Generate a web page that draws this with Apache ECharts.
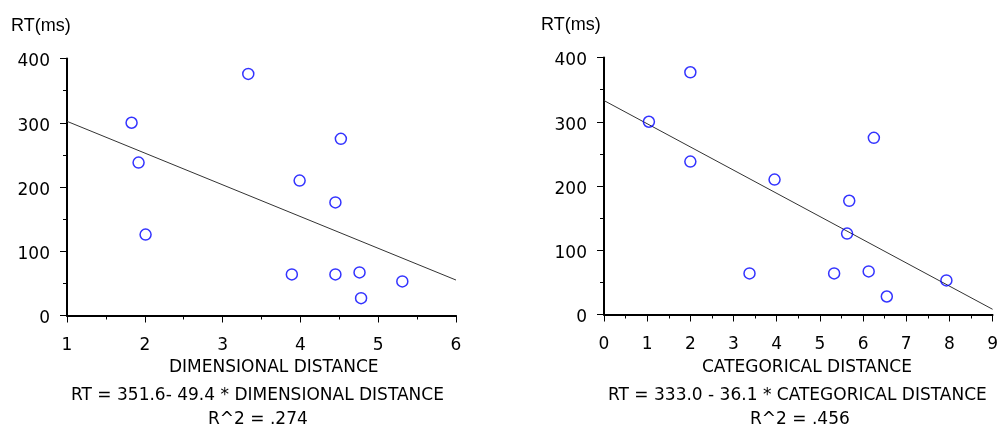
<!DOCTYPE html>
<html>
<head>
<meta charset="utf-8">
<script src="https://cdn.jsdelivr.net/npm/echarts@6/dist/echarts.min.js"></script>
<style>
html,body{margin:0;padding:0;background:#fff;}
#c{width:1001px;height:428px;}
</style>
</head>
<body>
<div id="c"></div>
<script>
// Left panel: dimensional distance vs RT
var dimDistance = [1.83, 1.92, 2.01, 3.33, 3.99, 4.52, 4.45, 3.89, 4.45, 4.76, 4.78, 5.31];
var dimRT       = [300, 238, 126, 376, 210, 275, 176, 64, 64, 67, 27, 53];
// Right panel: categorical distance vs RT
var catDistance = [1.04, 2.0, 2.0, 3.37, 3.95, 5.33, 5.68, 5.63, 6.13, 6.25, 6.55, 7.93];
var catRT       = [300, 377, 238, 64, 210, 64, 177, 126, 67, 275, 28, 53];
// Regression coefficients shown under each panel [intercept, slope]
var dimFit = [351.6, -49.4];
var catFit = [333.0, -36.1];
var dimRange = [1, 6];
var catRange = [0, 9];
var yTicks = [0, 100, 200, 300, 400];
var texts = {
  yName: 'RT(ms)',
  dimName: 'DIMENSIONAL DISTANCE',
  catName: 'CATEGORICAL DISTANCE',
  dimEq: 'RT = 351.6- 49.4 * DIMENSIONAL DISTANCE',
  catEq: 'RT = 333.0 - 36.1 * CATEGORICAL DISTANCE',
  dimR2: 'R^2 = .274',
  catR2: 'R^2 = .456'
};

function pts(xs, ys){ return xs.map(function(x,i){ return [x, ys[i]]; }); }
function fitLine(fit, range){ return range.map(function(x){ return [x, fit[0] + fit[1]*x]; }); }

var FONT = 'DejaVu Sans';
function xAxis(idx, range){
  return {
    type:'value', gridIndex: idx, min: range[0], max: range[1], interval: 1,
    axisLine:{show:true, onZero:false, lineStyle:{color:'#000', width:2}},
    axisTick:{show:true, length:7, lineStyle:{color:'#000', width:1}},
    minorTick:{show:true, splitNumber:2, length:4, lineStyle:{color:'#000', width:1}},
    axisLabel:{color:'#000', fontFamily:FONT, fontSize:17, margin:22},
    splitLine:{show:false}
  };
}
function yAxis(idx){
  return {
    type:'value', gridIndex: idx, min: yTicks[0], max: yTicks[yTicks.length-1], interval: 100,
    axisLine:{show:true, lineStyle:{color:'#000', width:2}},
    axisTick:{show:true, length:7, lineStyle:{color:'#000', width:1}},
    minorTick:{show:true, splitNumber:2, length:4, lineStyle:{color:'#000', width:1}},
    axisLabel:{color:'#000', fontFamily:FONT, fontSize:17, margin:17, verticalAlign:'top', lineHeight:7},
    splitLine:{show:false}
  };
}
function scatter(idx, data){
  return {
    type:'scatter', xAxisIndex: idx, yAxisIndex: idx, data: data,
    symbol:'circle', symbolSize: 11,
    itemStyle:{color:'rgba(0,0,0,0)', borderColor:'#0000ff', borderWidth:1.5},
    silent:true, z:3
  };
}
function line(idx, data){
  return {
    type:'line', xAxisIndex: idx, yAxisIndex: idx, data: data,
    symbol:'none', lineStyle:{color:'#333', width:1}, silent:true, z:2
  };
}

var chart = echarts.init(document.getElementById('c'));
chart.setOption({
  animation:false,
  backgroundColor:'#fff',
  grid:[
    {left:67, top:58.5, width:389, height:257},
    {left:604, top:57.5, width:391, height:257}
  ],
  xAxis:[xAxis(0, dimRange), xAxis(1, catRange)],
  yAxis:[yAxis(0), yAxis(1)],
  series:[
    line(0, fitLine(dimFit, dimRange)),
    scatter(0, pts(dimDistance, dimRT)),
    line(1, fitLine(catFit, catRange)),
    scatter(1, pts(catDistance, catRT))
  ],
  graphic:[
    {type:'text', left:11, top:17, style:{text:texts.yName, fill:'#000', font:'18px "Liberation Sans"'}},
    {type:'text', left:541, top:16, style:{text:texts.yName, fill:'#000', font:'18px "Liberation Sans"'}},
    {type:'text', left:169, top:359, style:{text:texts.dimName, fill:'#000', font:'17px "DejaVu Sans"'}},
    {type:'text', left:702, top:359, style:{text:texts.catName, fill:'#000', font:'17px "DejaVu Sans"'}},
    {type:'text', left:71, top:387, style:{text:texts.dimEq, fill:'#000', font:'17px "DejaVu Sans"'}},
    {type:'text', left:608, top:387, style:{text:texts.catEq, fill:'#000', font:'17px "DejaVu Sans"'}},
    {type:'text', left:208, top:411, style:{text:texts.dimR2, fill:'#000', font:'17px "DejaVu Sans"'}},
    {type:'text', left:750, top:411, style:{text:texts.catR2, fill:'#000', font:'17px "DejaVu Sans"'}}
  ]
});
</script>
</body>
</html>
